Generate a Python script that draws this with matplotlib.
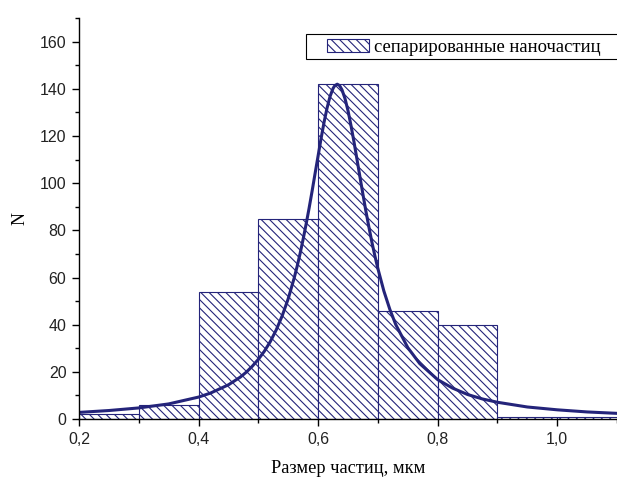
import matplotlib
matplotlib.use("Agg")
import matplotlib.pyplot as plt
from matplotlib.patches import Rectangle
from matplotlib.ticker import MultipleLocator, FuncFormatter

# histogram bins (left edges) and counts
bin_left = [0.2, 0.3, 0.4, 0.5, 0.6, 0.7, 0.8, 0.9, 1.0]
counts = [2, 6, 54, 85, 142, 46, 40, 1, 1]
bin_width = 0.1

# fitted curve
curve_x = [0.20, 0.25, 0.30, 0.35, 0.40, 0.42, 0.45, 0.47, 0.48, 0.49,
           0.50, 0.51, 0.52, 0.53, 0.54, 0.55, 0.56, 0.565, 0.57, 0.575,
           0.58, 0.585, 0.59, 0.595, 0.60, 0.605, 0.61, 0.615, 0.62, 0.625,
           0.628, 0.632, 0.636, 0.64, 0.645, 0.65, 0.655, 0.66, 0.665, 0.67,
           0.675, 0.68, 0.685, 0.69, 0.695, 0.70, 0.71, 0.72, 0.73, 0.75,
           0.77, 0.80, 0.825, 0.85, 0.875, 0.90, 0.95, 1.00, 1.05, 1.10]
curve_y = [2.8, 3.6, 4.7, 6.4, 9.3, 11.0, 14.5, 17.8, 19.9, 22.4,
           25.3, 28.7, 32.8, 37.8, 43.8, 51.0, 59.8, 64.8, 70.3, 76.3,
           82.7, 89.5, 96.7, 104.2, 111.6, 119.0, 125.9, 131.9, 136.8, 140.2,
           141.4, 142.0, 141.4, 139.6, 135.9, 130.8, 124.5, 117.6, 110.2, 102.7,
           95.3, 88.1, 81.4, 75.0, 69.2, 63.8, 54.3, 46.5, 40.0, 30.3,
           23.5, 16.7, 13.1, 10.4, 8.5, 7.1, 5.1, 3.9, 3.0, 2.4]

legend_label = "сепарированные наночастиц"
x_label = "Размер частиц, мкм"
y_label = "N"

navy = "#24247a"
plt.rcParams["hatch.linewidth"] = 0.8

fig = plt.figure(figsize=(6.17, 4.78), dpi=100)
ax = fig.add_axes([0.128, 0.1234, 0.872, 0.8386])

ax.bar(bin_left, counts, width=bin_width, align="edge", facecolor="white",
       edgecolor=navy, linewidth=0.8, hatch="\\\\\\\\", label=legend_label)
ax.plot(curve_x, curve_y, color=navy, linewidth=2.2, solid_capstyle="round",
        solid_joinstyle="round")

ax.set_xlim(0.2, 1.1)
ax.set_ylim(0, 170)

for side in ["top", "right"]:
    ax.spines[side].set_visible(False)
for side in ["left", "bottom"]:
    ax.spines[side].set_linewidth(1.0)

ax.xaxis.set_major_locator(MultipleLocator(0.2))
ax.xaxis.set_minor_locator(MultipleLocator(0.1))
ax.yaxis.set_major_locator(MultipleLocator(20))
ax.yaxis.set_minor_locator(MultipleLocator(10))
ax.xaxis.set_major_formatter(FuncFormatter(lambda v, p: f"{v:.1f}".replace(".", ",")))
ax.tick_params(which="major", direction="out", length=5, width=1.0,
               labelsize=11.5, pad=4, labelcolor="#222222")
ax.tick_params(which="minor", direction="out", length=3, width=1.0)
for lbl in ax.get_xticklabels() + ax.get_yticklabels():
    lbl.set_family("Liberation Sans")

ax.set_xlabel(x_label, family="Liberation Serif", fontsize=13.2, labelpad=10)
ax.set_ylabel(y_label, family="Liberation Serif", fontsize=13, labelpad=8)

# legend frame drawn separately, it runs off the right edge
ax.add_patch(Rectangle((306 / 617, 1 - 59 / 478), 0.6, 25 / 478,
                       transform=fig.transFigure, facecolor="white",
                       edgecolor="black", linewidth=0.8, zorder=4,
                       clip_on=False))
leg = ax.legend(loc="center left", bbox_to_anchor=(327 / 617, 1 - 47.5 / 478),
                bbox_transform=fig.transFigure,
                prop={"family": "Liberation Serif", "size": 13.4},
                frameon=False, handlelength=2.25, handleheight=0.75,
                handletextpad=0.3, borderpad=0, borderaxespad=0)
leg.set_zorder(6)

fig.savefig("out.png", dpi=100)
